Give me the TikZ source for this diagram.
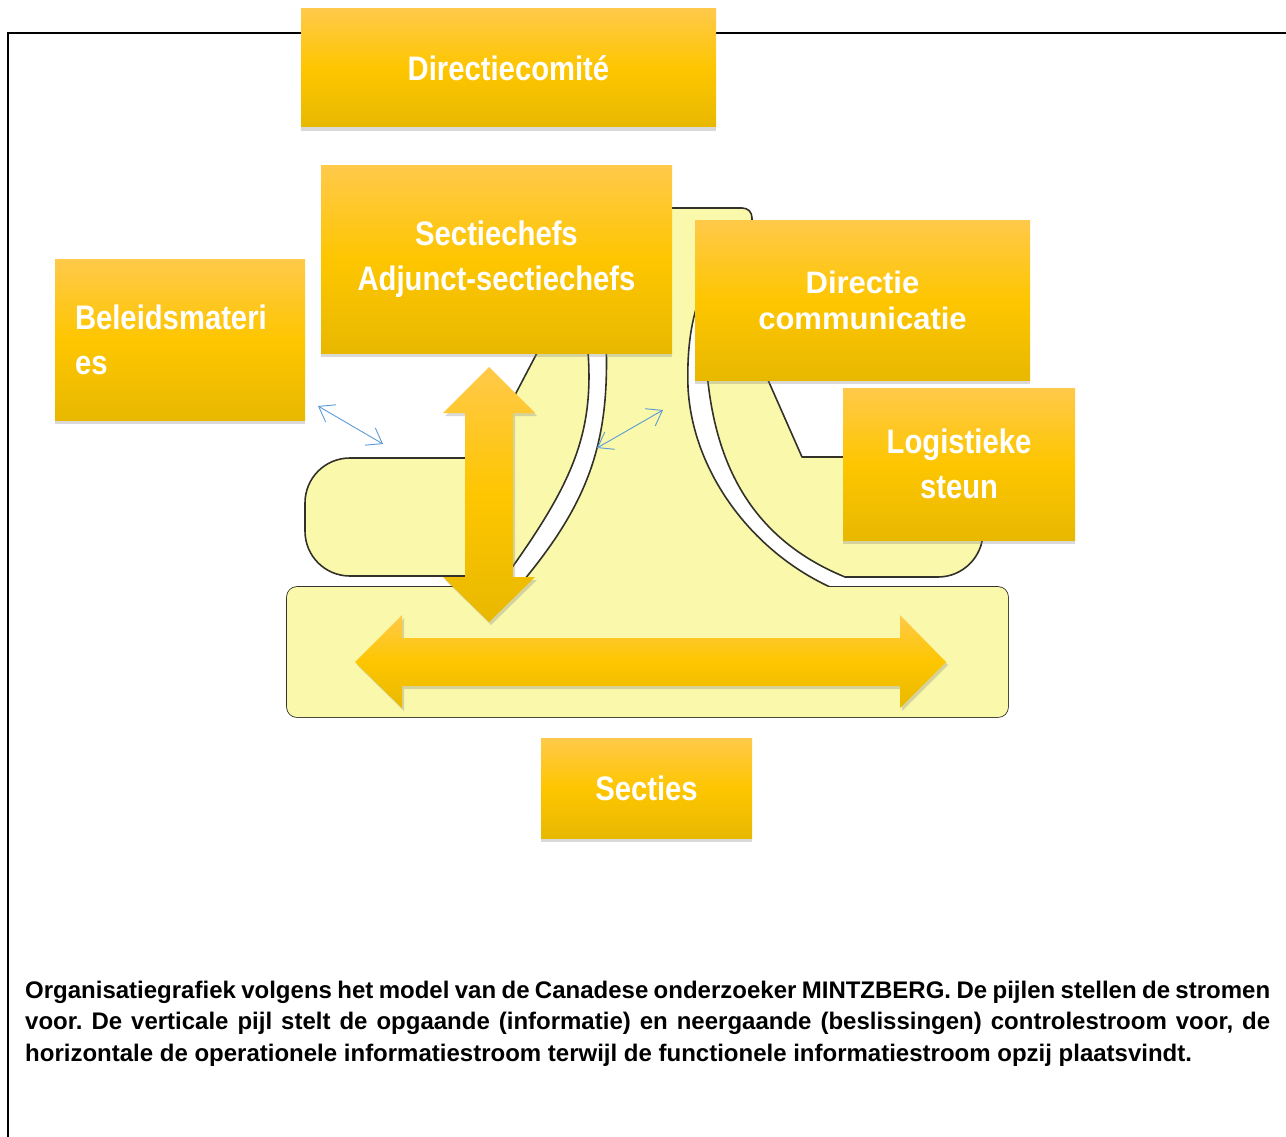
\documentclass[tikz,border=0pt]{standalone}
\usepackage{fontspec}
\setmainfont{Liberation Sans}
\newfontfamily\condfont{Liberation Sans}[FakeStretch=0.86]
\usetikzlibrary{
  calc,
  arrows.meta,
  positioning,
  shadows,
}
\definecolor{boxtop}{RGB}{255,201,74}
\definecolor{boxmid}{RGB}{254,198,0}
\definecolor{boxbot}{RGB}{232,184,0}
\definecolor{blobfill}{RGB}{250,248,170}
\definecolor{blobline}{RGB}{50,50,42}
\definecolor{flowblue}{RGB}{91,155,213}
\tikzset{
  ybox/.style = {rectangle, inner sep=0pt, outer sep=0pt,
      top color=boxtop, bottom color=boxbot, middle color=boxmid,
      drop shadow={shadow xshift=0pt, shadow yshift=-4pt, opacity=.3},
      text=white, align=center, anchor=north west,
      font=\condfont\bfseries\fontsize{34}{45}\selectfont},
  blob/.style = {fill=blobfill, draw=blobline, line width=1.6pt,
      line join=round},
  bigarrow/.style = {top color=boxtop, bottom color=boxbot, middle color=boxmid,
      drop shadow={shadow xshift=2pt, shadow yshift=-3pt, opacity=.3}},
  flow/.style = {{Straight Barb[length=14pt,width=20pt]}-{Straight Barb[length=14pt,width=20pt]},
      draw=flowblue, line width=0.9pt},
  caption/.style = {anchor=north west, inner sep=0pt, text width=1245pt,
      align=justify, font=\bfseries\fontsize{24}{31.5}\selectfont\frenchspacing},
}

\begin{document}
\begin{tikzpicture}[x=1pt, y=-1pt]
  \useasboundingbox (0,0) rectangle (1286,1137);
  % frame
  \draw[line width=1.8pt] (8,1150) |- (1300,33);

  % left part
  \draw[blob] (537,353) -- (482,458) -- (350,458)
    .. controls (325,458) and (305,478) .. (305,503) -- (305,531)
    .. controls (305,556) and (325,576) .. (350,576) -- (506,576)
    .. controls (575,480) and (596,430) .. (587,340)
    -- (588,290) -- (568,290) -- cycle;

  % middle part
  \draw[blob, rounded corners=10pt] (287,587) rectangle (1008,717);
  \draw[blob] (524,580) .. controls (590,500) and (610,440) .. (606,340)
    -- (615,208) -- (742,208) .. controls (748,208) and (752,212) .. (752,218)
    -- (752,222) .. controls (700,270) and (686,320) .. (688,387)
    .. controls (692,470) and (750,550) .. (830,587)
    -- (830,600) -- (524,600) -- cycle;
  \fill[blobfill, rounded corners=10pt] (287,587) rectangle (1008,717);

  % right part
  \draw[blob] (845,577) .. controls (730,530) and (706,430) .. (705,330)
    -- (712,240) -- (755,240) -- (768,380) -- (802,457) -- (938,457)
    .. controls (962.8,457) and (983,477.2) .. (983,502) -- (983,532)
    .. controls (983,556.8) and (962.8,577) .. (938,577) -- cycle;

  % functional flows
  \coordinate (fa1) at (318,406);
  \coordinate (fa2) at (383,444);
  \coordinate (fb1) at (663,410);
  \coordinate (fb2) at (597,448);
  \draw[flow] (fa1) -- (fa2);
  \draw[flow] (fb1) -- (fb2);

  % control and operating flows
  \shade[bigarrow] (489,367) -- (535,413) -- (513,413) -- (513,577)
    -- (535,577) -- (489,622) -- (443,577) -- (465,577) -- (465,413)
    -- (443,413) -- cycle;
  \shade[bigarrow] (355,662) -- (402,615) -- (402,638) -- (900,638)
    -- (900,615) -- (946,662) -- (900,708) -- (900,686) -- (402,686)
    -- (402,708) -- cycle;

  \node[ybox, minimum width=415pt, minimum height=118pt] (dircom)
    at (301,9) {Directiecomité};
  \node[ybox, minimum width=351pt, minimum height=187pt] (chefs)
    at (321,166) {Sectiechefs\\Adjunct-sectiechefs};
  \node[ybox, minimum height=161pt, inner xsep=20pt, text width=210pt,
    align=left] (beleid) at (55,259) {Beleidsmateri\\es};
  \node[ybox, minimum width=335pt, minimum height=160pt,
    font=\bfseries\fontsize{31}{36}\selectfont] (comm)
    at (695,220) {Directie\\communicatie};
  \node[ybox, minimum width=232pt, minimum height=152pt] (logi)
    at (843,388) {Logistieke\\steun};
  \node[ybox, minimum width=211pt, minimum height=100pt] (secties)
    at (541,738) {Secties};

  \node[caption] (cap) at (25,980.5) {Organisatiegrafiek volgens het model
    van de Canadese onderzoeker MINTZBERG. De pijlen stellen de
    stromen\linebreak voor. De verticale pijl stelt de opgaande (informatie)
    en neergaande (beslissingen) controlestroom voor, de\linebreak
    horizontale de operationele informatiestroom terwijl de functionele
    informatiestroom opzij plaatsvindt.};
\end{tikzpicture}
\end{document}
